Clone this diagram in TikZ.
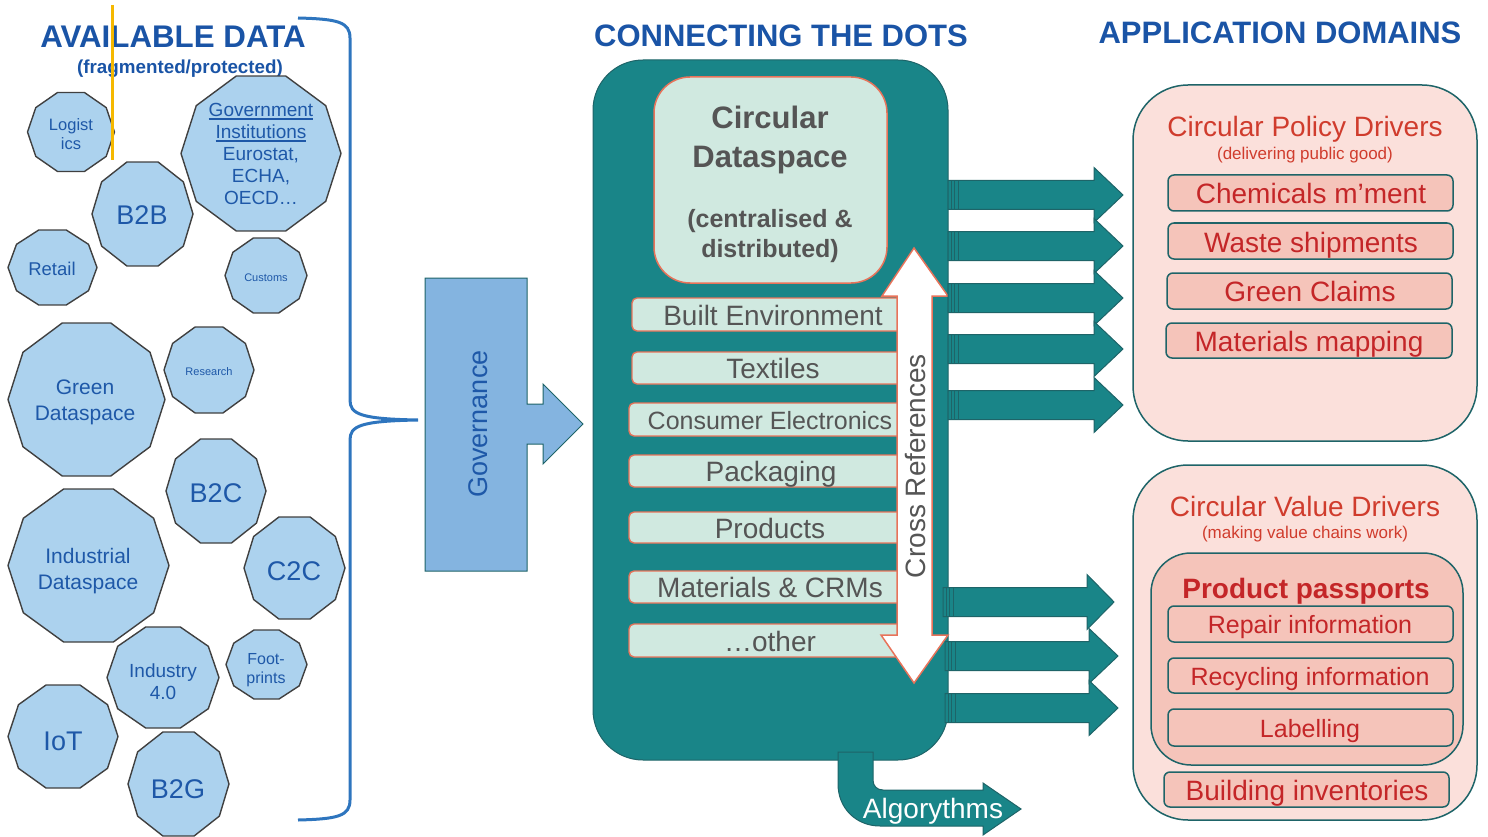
\documentclass[tikz,border=0pt]{standalone}
\usepackage{fontspec}
\setmainfont{Liberation Sans}
\usetikzlibrary{calc}
\definecolor{titleblue}{RGB}{26,84,166}
\definecolor{decafill}{RGB}{172,210,238}
\definecolor{decaline}{RGB}{64,64,64}
\definecolor{decatxt}{RGB}{30,88,168}
\definecolor{braceblue}{RGB}{46,117,190}
\definecolor{ylw}{RGB}{245,184,0}
\definecolor{govfill}{RGB}{132,180,224}
\definecolor{teal}{RGB}{25,133,136}
\definecolor{tealdk}{RGB}{30,100,104}
\definecolor{mint}{RGB}{208,233,224}
\definecolor{salmon}{RGB}{232,115,90}
\definecolor{graytxt}{RGB}{85,85,85}
\definecolor{pinkbg}{RGB}{251,224,219}
\definecolor{pinkitem}{RGB}{245,196,186}
\definecolor{redtxt}{RGB}{196,38,40}
\definecolor{redhead}{RGB}{208,60,45}
\newcommand\fs[2]{\fontsize{#1}{#2}\selectfont}
\newcommand\ulx[1]{\setbox0\hbox{#1}\rlap{\rule[-3pt]{\wd0}{1.3pt}}\box0}
% decagon: cx, cy, half-width, half-height
\newcommand\deca[4]{\draw[decagon] ({#1+#3},{#2}) \foreach \k in {1,...,9}{ -- ({#1+#3*cos(36*\k)},{#2+#4/0.9511*sin(36*\k)})} -- cycle;}
% right block arrow: x0, xbase, xtip, yc
\newcommand\rarr[4]{%
  \draw[tarrow] (#1,#4-14.5) -- (#2,#4-14.5) -- (#2,#4-27.5) -- (#3,#4) -- (#2,#4+27.5) -- (#2,#4+14.5) -- (#1,#4+14.5) -- cycle;
  \draw[tealdk,line width=0.8] (#1+3,#4-14.5) -- (#1+3,#4+14.5) (#1+6,#4-14.5) -- (#1+6,#4+14.5) (#1+10,#4-14.5) -- (#1+10,#4+14.5);}
\tikzset{
  one/.style={inner sep=0,text depth=0pt},
  decagon/.style={fill=decafill,draw=decaline,line width=1.4},
  decatext/.style={text=decatxt,align=center,inner sep=0},
  ttl/.style={one,text=titleblue,font=\bfseries\fs{31}{36}},
  tarrow/.style={fill=teal,draw=tealdk,line width=1},
  sector/.style={fill=mint,draw=salmon,line width=1.4,rounded corners=5},
  sectxt/.style={one,text=graytxt,font=\fs{28}{32}},
  pinkbox/.style={fill=pinkbg,draw=tealdk,line width=1.5,rounded corners=55},
  item/.style={fill=pinkitem,draw=tealdk,line width=1.5,rounded corners=6},
  itemtxt/.style={one,text=redtxt,font=\fs{25}{30}},
}
\begin{document}
\begin{tikzpicture}[x=1pt,y=-1pt]
\useasboundingbox (0,0) rectangle (1488,837);

% ---------- titles ----------
\node[ttl,font=\bfseries\fs{31.3}{36}] (tavail) at (173,37) {AVAILABLE DATA};
\node[one,text=titleblue,font=\bfseries\fs{18.8}{22}] (tfrag) at (180,67) {(fragmented/protected)};
\node[ttl] (tconn) at (781,36) {CONNECTING THE DOTS};
\node[ttl] (tappl) at (1280,33) {APPLICATION DOMAINS};

% ---------- decagons ----------
\deca{71}{132}{43.5}{39.5}
\node[decatext,font=\fs{16.5}{19}] (logi) at (71,134) {Logist\\ics};
\deca{261}{153.5}{80}{77.5}
\node[decatext,font=\fs{19}{22}] (gov) at (261,154) {\ulx{Government}\\\ulx{Institutions}\\Eurostat,\\ECHA,\\OECD…};
\deca{142.5}{214}{50.5}{52}
\node[decatext,font=\fs{27}{30}] (b2b) at (142,215) {B2B};
\deca{52.5}{267.5}{44.5}{37.5}
\node[decatext,font=\fs{18.5}{22}] (retail) at (52,268.5) {Retail};
\deca{266}{275.5}{41}{37.5}
\node[decatext,font=\fs{11}{13}] (customs) at (266,277.5) {Customs};
\deca{86.5}{399.5}{78.5}{76.5}
\node[decatext,font=\fs{21}{26}] (green) at (85,402.5) {Green\\Dataspace};
\deca{209}{370}{45}{43}
\node[decatext,font=\fs{11}{13}] (research) at (209,372) {Research};
\deca{216}{491}{50}{52}
\node[decatext,font=\fs{27}{30}] (b2c) at (216,493) {B2C};
\deca{88.5}{565.5}{80.5}{76.5}
\node[decatext,font=\fs{21}{26}] (indus) at (88,571.5) {Industrial\\Dataspace};
\deca{294.5}{568}{50.5}{51}
\node[decatext,font=\fs{27}{30}] (c2c) at (294,571) {C2C};
\deca{163}{677.5}{56}{50.5}
\node[decatext,font=\fs{19}{22}] (ind40) at (163,682) {Industry\\4.0};
\deca{266.5}{664.5}{40.5}{34.5}
\node[decatext,font=\fs{16}{19}] (foot) at (266,670) {Foot-\\prints};
\deca{63}{736.5}{55}{51.5}
\node[decatext,font=\fs{27}{30}] (iot) at (63,741) {IoT};
\deca{178.5}{784}{50.5}{52}
\node[decatext,font=\fs{27}{30}] (b2g) at (178,789) {B2G};

% yellow marker line
\draw[ylw,line width=3] (112,5) -- (112,160);

% brace
\coordinate (bracetip) at (418,420);
\draw[braceblue,line width=3] (298,18) .. controls (338,19) and (350,22) .. (350,38) -- (350,400)
  .. controls (350,414) and (360,419) .. (bracetip)
  .. controls (360,421) and (350,426) .. (350,440) -- (350,800)
  .. controls (350,816) and (338,819) .. (298,820);

% ---------- governance ----------
\draw[fill=govfill,draw=tealdk,line width=1] (425,278) -- (527,278) -- (527,404) -- (543,404) -- (543,384) -- (583,424)
  -- (543,464) -- (543,444) -- (527,444) -- (527,571) -- (425,571) -- cycle;
\node[text=decatxt,font=\fs{27}{30},rotate=90,inner sep=0] (govn) at (478,424) {Governance};

% ---------- central teal box ----------
\draw[fill=teal,draw=tealdk,line width=1,rounded corners=50] (593,60) rectangle (948,760);
\draw[fill=mint,draw=salmon,line width=1.5,rounded corners=36] (654,77) rectangle (887,283);
\node[text=graytxt,font=\bfseries\fs{31}{39},align=center,inner sep=0] (circ) at (770,140) {Circular\\Dataspace};
\node[text=graytxt,font=\bfseries\fs{25}{30},align=center,inner sep=0] (centr) at (770,236) {(centralised \&\\distributed)};

% sectors
\draw[sector] (632,298) rectangle (905,331);
\node[sectxt] (built) at (773,315.5) {Built Environment};
\draw[sector] (632,352) rectangle (905,384);
\node[sectxt] (text) at (773,368.5) {Textiles};
\draw[sector] (629,403) rectangle (905,436);
\node[sectxt,font=\fs{25}{30}] (cons) at (770,420) {Consumer Electronics};
\draw[sector] (629,455) rectangle (905,487);
\node[sectxt] (pack) at (771,471) {Packaging};
\draw[sector] (629,512) rectangle (905,543);
\node[sectxt] (prod) at (770,528) {Products};
\draw[sector] (629,571) rectangle (905,603);
\node[sectxt] (mat) at (770,587.5) {Materials \& CRMs};
\draw[sector] (629,624) rectangle (905,657);
\node[sectxt] (other) at (770,641) {…other};

% cross references double arrow
\draw[fill=white,draw=salmon,line width=1.5] (914,248) -- (948,296) -- (932,296) -- (932,635) -- (948,635) -- (914,683)
  -- (881,635) -- (897,635) -- (897,296) -- (882,296) -- cycle;
\node[text=graytxt,font=\fs{28}{32},rotate=90,inner sep=0] (xref) at (915,466) {Cross References};

% algorythms bent arrow
\draw[tarrow] (838,752) -- (873,752) -- (873,780) .. controls (873,786) and (877,790) .. (883,790) -- (983,790) -- (983,783)
  -- (1021,809) -- (983,835) -- (983,826) -- (880,826) .. controls (856,826) and (838,808) .. (838,784) -- cycle;
\node[one,text=white,font=\fs{28}{32}] (algo) at (933,808) {Algorythms};

% right arrows
\rarr{948}{1094}{1123}{195}
\rarr{948}{1094}{1123}{246}
\rarr{948}{1094}{1123}{298}
\rarr{948}{1094}{1123}{349}
\rarr{948}{1094}{1123}{405}
\rarr{943}{1087}{1114}{602}
\rarr{945}{1089}{1118}{656}
\rarr{945}{1089}{1118}{708}

% ---------- application domains ----------
\draw[pinkbox] (1133,85) rectangle (1477,441);
\node[one,text=redhead,font=\fs{28}{32}] (cpd) at (1305,126) {Circular Policy Drivers};
\node[one,text=redhead,font=\fs{17}{20}] (cpds) at (1305,153) {(delivering public good)};
\draw[item] (1168,175) rectangle (1453,211);
\node[itemtxt,font=\fs{28}{32}] (chem) at (1311,193) {Chemicals m’ment};
\draw[item] (1168,223) rectangle (1453,259);
\node[itemtxt,font=\fs{28}{32}] (waste) at (1311,242) {Waste shipments};
\draw[item] (1167,273) rectangle (1452,309);
\node[itemtxt,font=\fs{28}{32}] (gclaims) at (1310,291) {Green Claims};
\draw[item] (1166,323) rectangle (1452,358);
\node[itemtxt,font=\fs{28}{32}] (matmap) at (1309,341) {Materials mapping};

\draw[pinkbox] (1133,465) rectangle (1477,820);
\node[one,text=redhead,font=\fs{28}{32}] (cvd) at (1305,506) {Circular Value Drivers};
\node[one,text=redhead,font=\fs{17}{20}] (cvds) at (1305,532) {(making value chains work)};
\draw[fill=pinkitem,draw=tealdk,line width=1.5,rounded corners=40] (1151,553) rectangle (1463,765);
\node[one,text=redtxt,font=\bfseries\fs{28}{32}] (pp) at (1306,588) {Product passports};
\draw[item] (1168,606) rectangle (1453,642);
\node[itemtxt] (repair) at (1310,624) {Repair information};
\draw[item] (1168,658) rectangle (1453,693);
\node[itemtxt] (recyc) at (1310,676) {Recycling information};
\draw[item] (1168,709) rectangle (1453,746);
\node[itemtxt] (label) at (1310,728) {Labelling};
\draw[item] (1164,772) rectangle (1449,807);
\node[itemtxt,font=\fs{28}{32}] (build) at (1307,790) {Building inventories};
\end{tikzpicture}
\end{document}
